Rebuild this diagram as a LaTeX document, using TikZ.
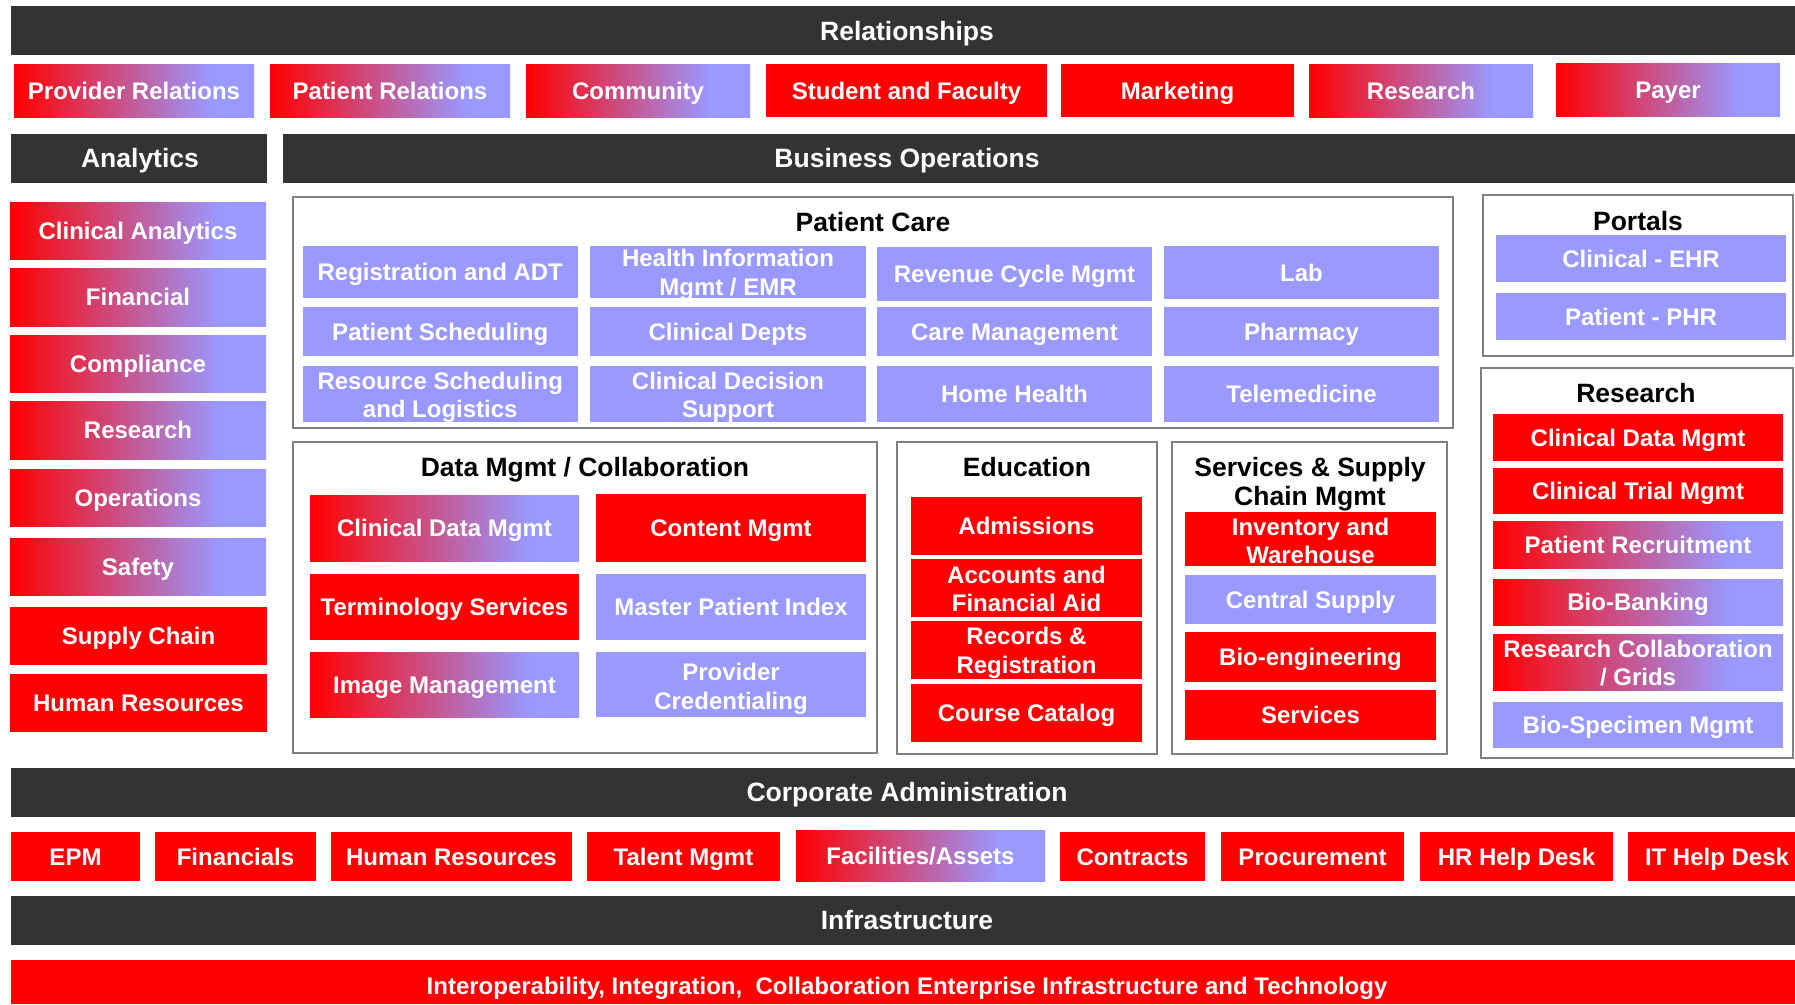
\documentclass[tikz,border=0pt]{standalone}
\usepackage{fontspec}
\setmainfont{Liberation Sans}
\definecolor{peri}{HTML}{9999FF}
\definecolor{rd}{HTML}{FF0000}
\definecolor{barc}{HTML}{333333}
\definecolor{frm}{HTML}{808080}
\pgfdeclarehorizontalshading{rgrad}{100bp}{color(0bp)=(rd); color(25bp)=(rd); color(66bp)=(peri); color(100bp)=(peri)}
\tikzset{
  base/.style={inner sep=0pt, outer sep=0pt, anchor=north west, align=center, text=white, text height=17.5pt, text depth=0pt, font=\bfseries\fontsize{24}{28.5}\selectfont},
  mltext/.style={inner sep=0pt, outer sep=0pt, anchor=center, align=center, text=white, font=\bfseries\fontsize{24}{28.5}\selectfont},
  redbox/.style={base, fill=rd},
  peribox/.style={base, fill=peri},
  gradbox/.style={base, shading=rgrad},
  barbox/.style={base, fill=barc},
  framebox/.style={inner sep=0pt, outer sep=0pt, anchor=north west, draw=frm, line width=2.5pt, fill=white},
  ttl/.style={font=\bfseries\fontsize{26.5}{29}\selectfont, text=black, inner sep=0pt, align=center, text height=19pt, text depth=0pt},
  bartext/.style={font=\bfseries\fontsize{26.5}{31}\selectfont, text=white, inner sep=0pt, text height=19pt, text depth=0pt}
}
\newcommand\bx[7]{\node[#2, minimum width={#5-#3}, minimum height={#6-#4}] (#1) at (#3,#4) {#7};}
\newcommand\bxm[8]{\node[#2, minimum width={#5-#3}, minimum height={#6-#4}] (#1) at (#3,#4) {};
  \node[mltext, yshift=-#7pt] (#1t) at (#1.center) {#8};}
\begin{document}
\begin{tikzpicture}[x=1pt,y=-1pt]
\useasboundingbox[fill=white] (0,0) rectangle (1795,1004);
% bars
\bx{relbar}{barbox}{11}{6}{1795}{55}{}
\node[bartext] (reltxt) at (907,31) {Relationships};
\bx{anbar}{barbox}{11}{134}{267}{183}{}
\node[bartext] (antxt) at (140,158) {Analytics};
\bx{bobar}{barbox}{283}{134}{1795}{183}{}
\node[bartext] (botxt) at (907,158) {Business Operations};
\bx{cabar}{barbox}{11}{768}{1795}{817}{}
\node[bartext] (catxt) at (907,792) {Corporate Administration};
\bx{infbar}{barbox}{11}{896}{1795}{945}{}
\node[bartext] (inftxt) at (907,920) {Infrastructure};
\bx{iobar}{redbox}{11}{960}{1795}{1004}{}
\node[base, anchor=center] (iotxt) at (907,986) {Interoperability, Integration,\ \ Collaboration Enterprise Infrastructure and Technology};
% relationships
\bx{r1}{gradbox}{14}{64}{254}{117}{Provider Relations}
\bx{r2}{gradbox}{270}{64}{510}{117}{Patient Relations}
\bx{r3}{gradbox}{526}{64}{750}{117}{Community}
\bx{r4}{redbox}{766}{64}{1047}{117}{Student and Faculty}
\bx{r5}{redbox}{1061}{64}{1294}{117}{Marketing}
\bx{r6}{gradbox}{1309}{64}{1533}{117}{Research}
\bx{r7}{gradbox}{1556}{63}{1780}{116}{Payer}
% analytics
\bx{a1}{gradbox}{10}{202}{266}{259}{Clinical Analytics}
\bx{a2}{gradbox}{10}{268}{266}{326}{Financial}
\bx{a3}{gradbox}{10}{335}{266}{392}{Compliance}
\bx{a4}{gradbox}{10}{401}{266}{459}{Research}
\bx{a5}{gradbox}{10}{469}{266}{526}{Operations}
\bx{a6}{gradbox}{10}{538}{266}{595}{Safety}
\bx{a7}{redbox}{10}{607}{267}{665}{Supply Chain}
\bx{a8}{redbox}{10}{674}{267}{732}{Human Resources}
% patient care
\bx{pcf}{framebox}{293}{197}{1453}{428}{}
\node[ttl] (pct) at (873,222) {Patient Care};
\bx{p11}{peribox}{303}{246}{577.5}{298}{Registration and ADT}
\bxm{p12}{peribox}{590}{246}{866}{298}{3}{Health Information\\Mgmt / EMR}
\bx{p13}{peribox}{877}{247}{1152}{301}{Revenue Cycle Mgmt}
\bx{p14}{peribox}{1164}{246}{1439}{299}{Lab}
\bx{p21}{peribox}{303}{307}{577.5}{356}{Patient Scheduling}
\bx{p22}{peribox}{590}{307}{866}{356}{Clinical Depts}
\bx{p23}{peribox}{877}{307}{1152}{356}{Care Management}
\bx{p24}{peribox}{1164}{307}{1439}{356}{Pharmacy}
\bxm{p31}{peribox}{303}{366}{577.5}{422}{3.5}{Resource Scheduling\\and Logistics}
\bxm{p32}{peribox}{590}{366}{866}{422}{3.5}{Clinical Decision\\Support}
\bx{p33}{peribox}{877}{366}{1152}{422}{Home Health}
\bx{p34}{peribox}{1164}{366}{1439}{422}{Telemedicine}
% portals
\bx{pof}{framebox}{1483}{195}{1793}{356}{}
\node[ttl] (pot) at (1638,221) {Portals};
\bx{po1}{peribox}{1496}{235}{1786}{282}{Clinical - EHR}
\bx{po2}{peribox}{1496}{293}{1786}{340}{Patient - PHR}
% research
\bx{rsf}{framebox}{1481}{368}{1793}{758}{}
\node[ttl] (rst) at (1636,393) {Research};
\bx{rs1}{redbox}{1493}{414}{1783}{461}{Clinical Data Mgmt}
\bx{rs2}{redbox}{1493}{468}{1783}{514}{Clinical Trial Mgmt}
\bx{rs3}{gradbox}{1493}{521}{1783}{568}{Patient Recruitment}
\bx{rs4}{gradbox}{1493}{579}{1783}{625}{Bio-Banking}
\bxm{rs5}{gradbox}{1493}{634}{1783}{690}{1}{Research Collaboration\\/ Grids}
\bx{rs6}{peribox}{1493}{702}{1783}{748}{Bio-Specimen Mgmt}
% data mgmt
\bx{dmf}{framebox}{293}{442}{877}{753}{}
\node[ttl] (dmt) at (585,467) {Data Mgmt / Collaboration};
\bx{dm1}{gradbox}{310}{495}{579}{561}{Clinical Data Mgmt}
\bx{dm2}{redbox}{596}{494}{866}{562}{Content Mgmt}
\bx{dm3}{redbox}{310}{574}{579}{640}{Terminology Services}
\bx{dm4}{peribox}{596}{574}{866}{640}{Master Patient Index}
\bx{dm5}{gradbox}{310}{652}{579}{717}{Image Management}
\bxm{dm6}{peribox}{596}{652}{866}{717}{4.5}{Provider\\Credentialing}
% education
\bx{edf}{framebox}{897}{442}{1157}{754}{}
\node[ttl] (edt) at (1027,467) {Education};
\bx{ed1}{redbox}{911}{497}{1142}{555}{Admissions}
\bxm{ed2}{redbox}{911}{559}{1142}{617}{1}{Accounts and\\Financial Aid}
\bxm{ed3}{redbox}{911}{621}{1142}{679}{3}{Records \&\\Registration}
\bx{ed4}{redbox}{911}{684}{1142}{742}{Course Catalog}
% services
\bx{ssf}{framebox}{1172}{442}{1447}{754}{}
\node[ttl, text height={}, text depth={}] (sst) at (1310,484) {Services \& Supply\\Chain Mgmt};
\bxm{ss1}{redbox}{1185}{512}{1436}{566}{2}{Inventory and\\Warehouse}
\bx{ss2}{peribox}{1185}{575}{1436}{624}{Central Supply}
\bx{ss3}{redbox}{1185}{632}{1436}{682}{Bio-engineering}
\bx{ss4}{redbox}{1185}{690}{1436}{740}{Services}
% corporate
\bx{c1}{redbox}{11}{832}{140}{881}{EPM}
\bx{c2}{redbox}{155}{832}{316}{881}{Financials}
\bx{c3}{redbox}{331}{832}{572}{881}{Human Resources}
\bx{c4}{redbox}{587}{832}{780}{881}{Talent Mgmt}
\bx{c5}{gradbox}{796}{830}{1045}{881}{Facilities/Assets}
\bx{c6}{redbox}{1060}{832}{1205}{881}{Contracts}
\bx{c7}{redbox}{1221}{832}{1404}{881}{Procurement}
\bx{c8}{redbox}{1420}{832}{1613}{881}{HR Help Desk}
\bx{c9}{redbox}{1628}{832}{1806}{881}{IT Help Desk}
\end{tikzpicture}
\end{document}
